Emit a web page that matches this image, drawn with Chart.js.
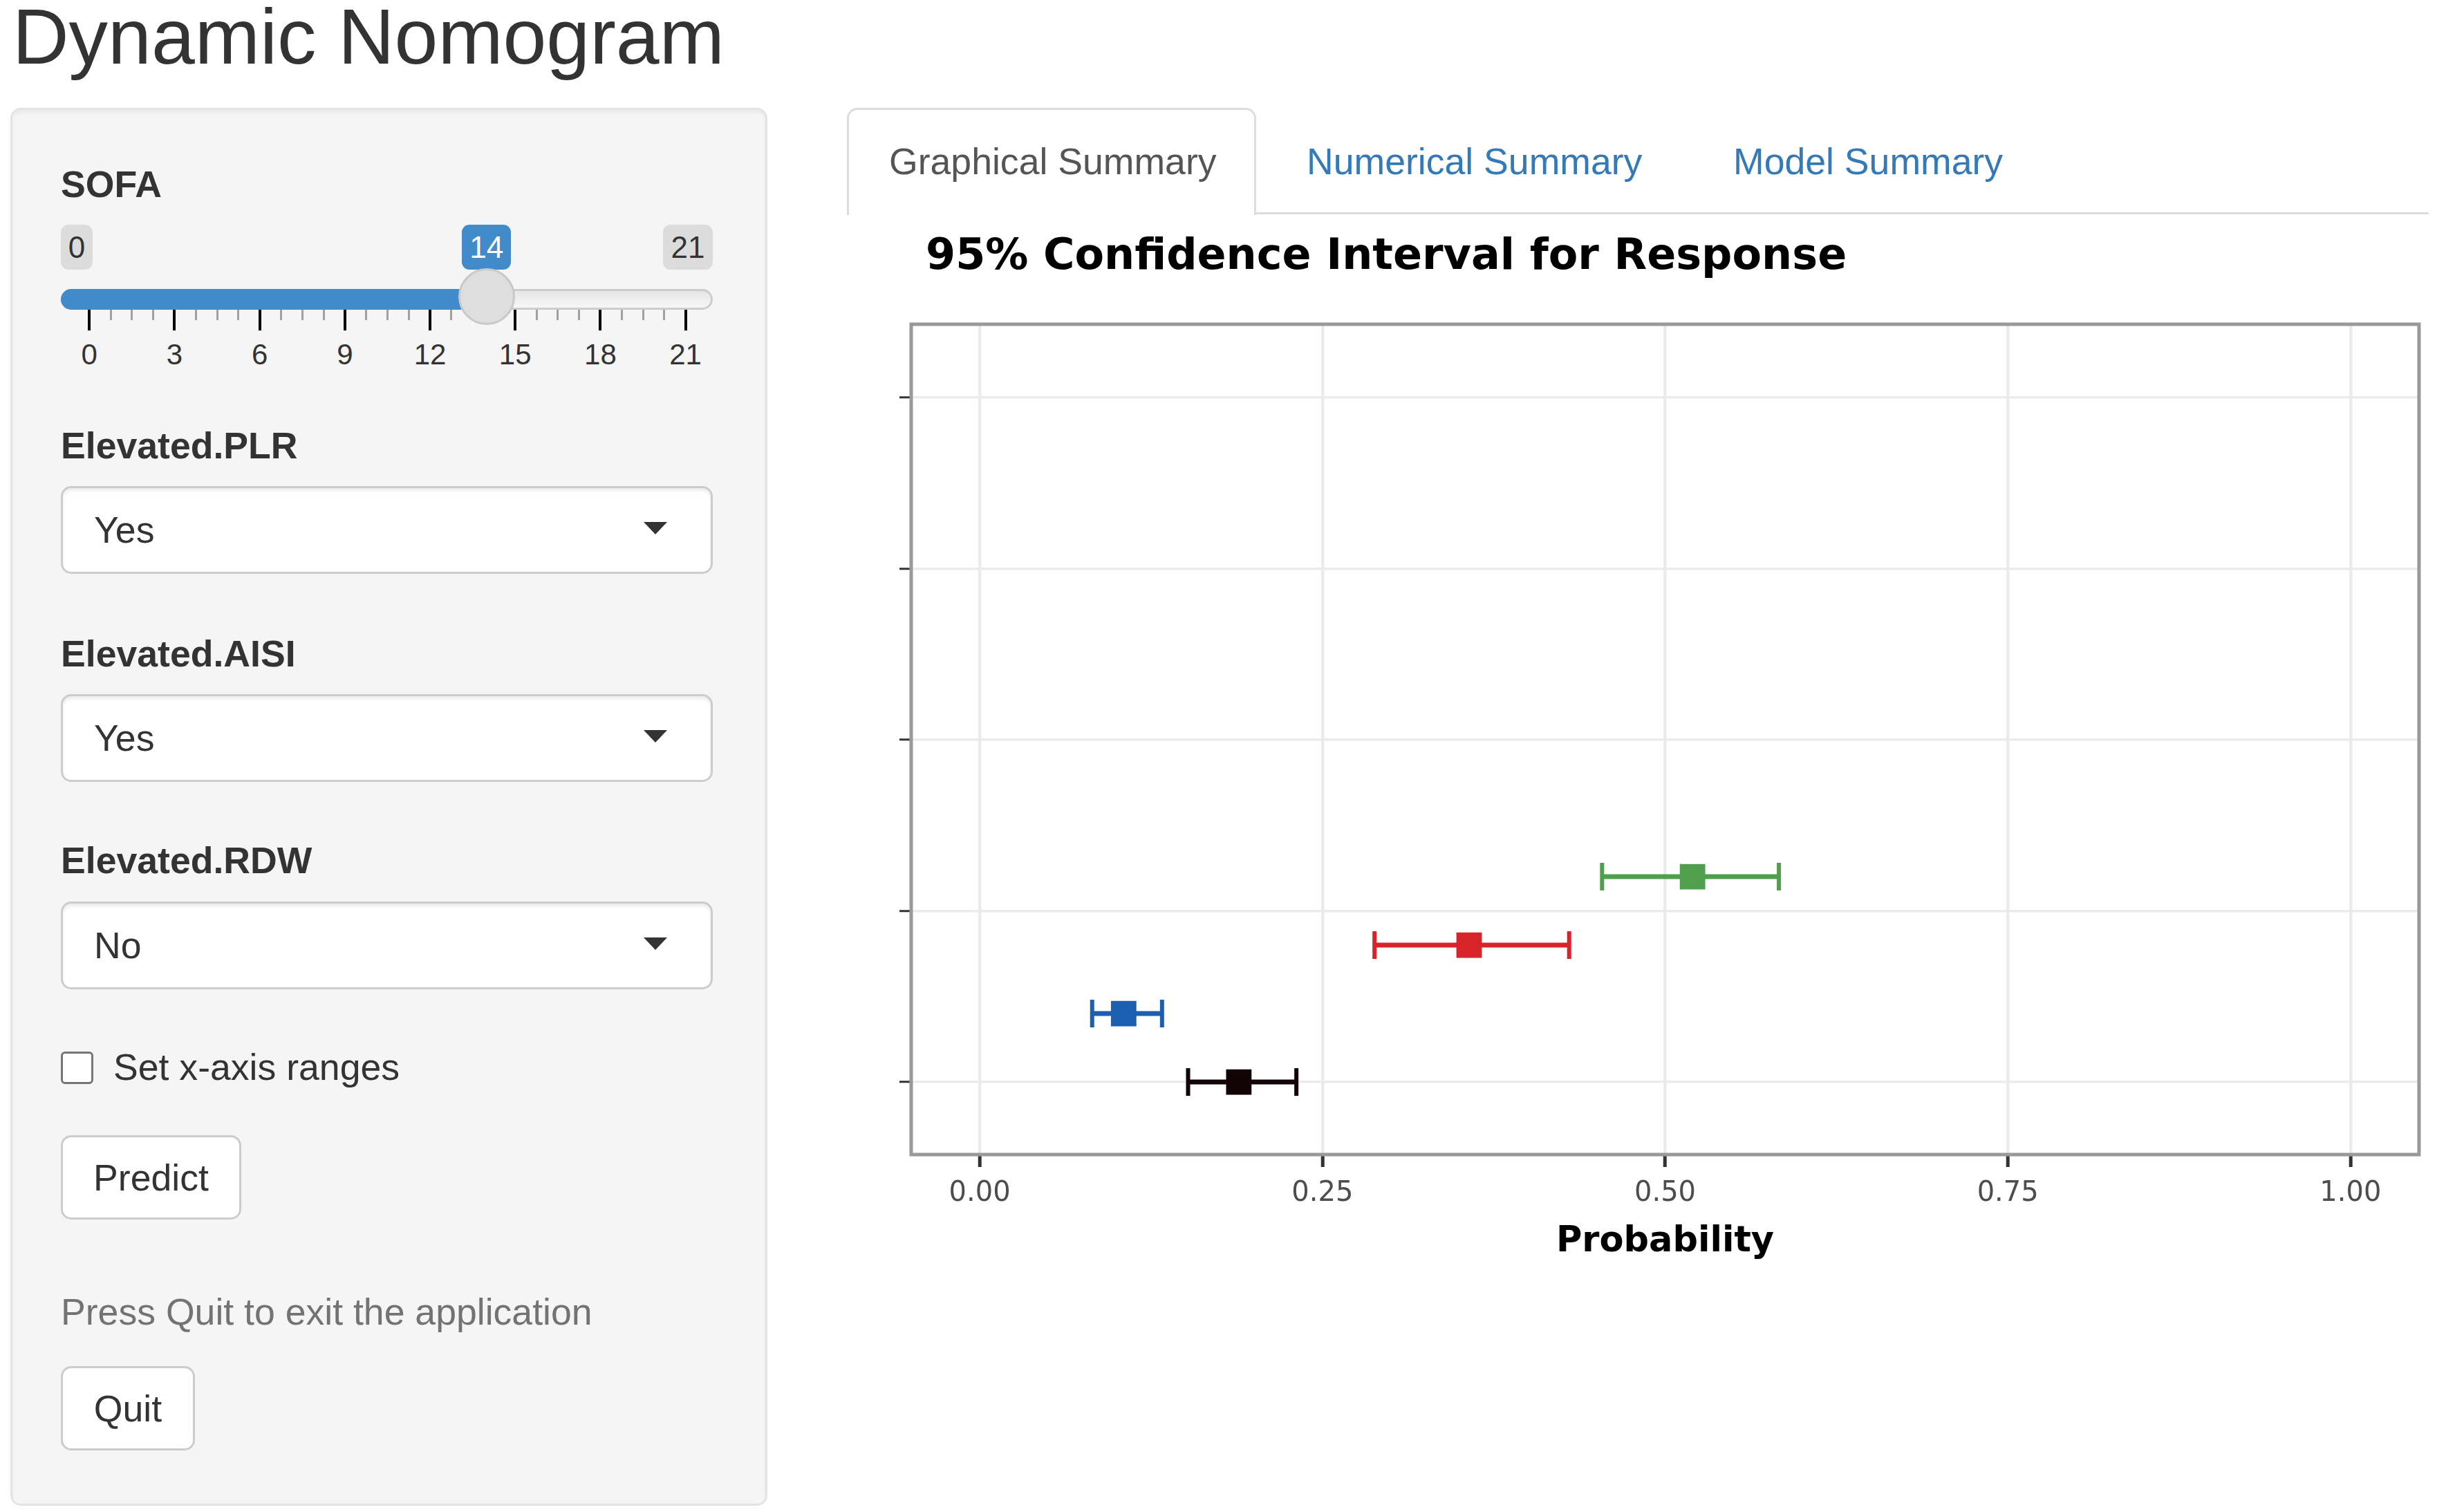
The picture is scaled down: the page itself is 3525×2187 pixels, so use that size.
<!DOCTYPE html>
<html>
<head>
<meta charset="utf-8">
<title>Dynamic Nomogram</title>
<script src="https://cdn.jsdelivr.net/npm/chart.js@4.4.1/dist/chart.umd.min.js"></script>
<style>
  * { box-sizing: border-box; }
  html, body { margin: 0; padding: 0; background: #fff; }
  body {
    width: 3525px; height: 2187px; position: relative; overflow: hidden;
    font-family: "Liberation Sans", Arial, Helvetica, sans-serif;
    font-size: 53.6px; color: #333;
  }
  h2 {
    position: absolute; left: 18px; top: -3px; margin: 0;
    font-size: 113px; line-height: 113px; font-weight: normal; color: #333;
  }
  .well {
    position: absolute; left: 15px; top: 156px; width: 1095px; height: 2022px;
    background: #f5f5f5; border: 3px solid #e3e3e3; border-radius: 15px;
    box-shadow: inset 0 4px 4px rgba(0, 0, 0, 0.05);
  }
  .txt { position: absolute; white-space: nowrap; height: 50px; line-height: 50px; }
  .lbl { left: 88px; font-weight: bold; }
  .sel {
    position: absolute; left: 88px; width: 943px; height: 127px;
    background: #fff; border: 3px solid #ccc; border-radius: 15px;
    box-shadow: inset 0 4px 4px rgba(0, 0, 0, 0.075);
  }
  .sel span { position: absolute; left: 45px; top: 0; line-height: 121px; }
  .sel i {
    position: absolute; left: 840px; top: 49px; width: 0; height: 0;
    border-left: 17px solid transparent; border-right: 17px solid transparent;
    border-top: 18px solid #333;
  }
  .chk {
    position: absolute; left: 88px; top: 1521px; width: 47px; height: 47px;
    background: #fff; border: 3px solid #767676; border-radius: 6px;
  }
  .btn {
    position: absolute; left: 88px; height: 122px; background: #fff;
    border: 3px solid #ccc; border-radius: 15px; text-align: center; line-height: 116px;
  }
  .irs-box {
    position: absolute; top: 325px; height: 65px; line-height: 65px;
    font-size: 44px; text-align: center; border-radius: 11px;
  }
  .irs-line {
    position: absolute; left: 88px; top: 418px; width: 943px; height: 30px;
    border: 3px solid #ccc; border-radius: 15px;
    background: linear-gradient(to bottom, #ddd -50%, #fff 150%);
  }
  .irs-bar {
    position: absolute; left: 88px; top: 418px; height: 30px;
    background: #428bca; border-radius: 15px 0 0 15px;
  }
  .irs-handle {
    position: absolute; width: 82px; height: 82px; top: 388px; z-index: 3;
    background: #dedede; border: 3px solid #c9c9c9; border-radius: 50%;
  }
  .tick { position: absolute; top: 448px; }
  .gridtxt {
    position: absolute; top: 488px; width: 100px; height: 50px; line-height: 50px;
    text-align: center; font-size: 42px; color: #333;
  }
  .tabline { position: absolute; left: 1228px; top: 307px; width: 2285px; height: 3px; background: #ddd; }
  .tab-active {
    position: absolute; left: 1225px; top: 156px; width: 592px; height: 155px;
    background: #fff; border: 3px solid #ddd; border-bottom: 0; border-radius: 15px 15px 0 0;
  }
  .tabtxt { top: 208px; }
  #chartBox { position: absolute; left: 1230px; top: 310px; width: 2295px; height: 1577px; }
</style>
</head>
<body>

<h2>Dynamic Nomogram</h2>

<div class="well"></div>
<div class="txt lbl" style="top:241px">SOFA</div>
<div id="slider"></div>

<div class="txt lbl" style="top:619px">Elevated.PLR</div>
<div class="sel" style="top:703px"><span>Yes</span><i></i></div>
<div class="txt lbl" style="top:920px">Elevated.AISI</div>
<div class="sel" style="top:1004px"><span>Yes</span><i></i></div>
<div class="txt lbl" style="top:1219px">Elevated.RDW</div>
<div class="sel" style="top:1304px"><span>No</span><i></i></div>

<div class="chk"></div>
<div class="txt" style="left:164px; top:1518px">Set x-axis ranges</div>
<div class="btn" style="top:1642px; width:261px">Predict</div>
<div class="txt" style="left:88px; top:1872px; color:#737373">Press Quit to exit the application</div>
<div class="btn" style="top:1976px; width:194px">Quit</div>

<div class="tabline"></div>
<div class="tab-active"></div>
<div class="txt tabtxt" style="left:1286px; color:#555">Graphical Summary</div>
<div class="txt tabtxt" style="left:1890px; color:#337ab7">Numerical Summary</div>
<div class="txt tabtxt" style="left:2507px; color:#337ab7">Model Summary</div>

<div id="chartBox"><canvas id="ciChart" width="2295" height="1577"></canvas></div>

<script>
// slider input
const sofaMin = 0;
const sofaMax = 21;
const sofaValue = 14;
const sofaGrid = [0, 3, 6, 9, 12, 15, 18, 21];

// predictions, bottom to top
const predRows = [0, 1, 2, 3];
const fitValues = [0.189, 0.105, 0.357, 0.520];
const lowerValues = [0.152, 0.082, 0.288, 0.454];
const upperValues = [0.231, 0.133, 0.430, 0.583];
const predColors = ['#120306', '#1b5fb1', '#d8232a', '#4f9f4f'];

const xTicks = [0, 0.25, 0.5, 0.75, 1];
const xTickLabels = ['0.00', '0.25', '0.50', '0.75', '1.00'];
const yTicks = [0, 2.5, 5, 7.5, 10];
const yTickLabels = ['', '', '', '', ''];

// ---- slider (plain html) ----
function buildSlider() {
  const el = document.getElementById('slider');
  const x0 = 129.3, x1 = 991.6;
  const px = v => x0 + (v - sofaMin) * (x1 - x0) / (sofaMax - sofaMin);
  let html = '';
  html += `<div class="irs-box" style="left:88px;width:46px;background:rgba(0,0,0,0.1);color:#333">${sofaMin}</div>`;
  html += `<div class="irs-box" style="left:959px;width:72px;background:rgba(0,0,0,0.1);color:#333">${sofaMax}</div>`;
  html += `<div class="irs-box" style="left:${px(sofaValue) - 36}px;width:71px;background:#428bca;color:#fff">${sofaValue}</div>`;
  html += '<div class="irs-line"></div>';
  html += `<div class="irs-bar" style="width:${px(sofaValue) - 88}px"></div>`;
  for (let i = 0; i < sofaGrid.length; i++) {
    const v = sofaGrid[i];
    html += `<div class="tick" style="left:${px(v) - 2}px;width:4px;height:30px;background:#000"></div>`;
    html += `<div class="gridtxt" style="left:${px(v) - 50}px">${v}</div>`;
    if (i < sofaGrid.length - 1) {
      const step = (sofaGrid[i + 1] - v) / 4;
      for (let k = 1; k < 4; k++) {
        html += `<div class="tick" style="left:${px(v + k * step) - 1.5}px;width:3px;height:15px;background:#a0a0a0"></div>`;
      }
    }
  }
  html += `<div class="irs-handle" style="left:${px(sofaValue) - 41}px"></div>`;
  el.innerHTML = html;
}
buildSlider();

// ---- chart ----
const pointSets = predRows.map((row, i) => ({
  data: [{ x: fitValues[i], y: row }],
  pointStyle: 'rect',
  pointRadius: 26,
  pointBorderWidth: 0,
  backgroundColor: predColors[i],
  showLine: false
}));

const intervalSets = predRows.map((row, i) => ({
  data: [{ x: lowerValues[i], y: row }, { x: upperValues[i], y: row }],
  showLine: true,
  borderColor: predColors[i],
  borderWidth: 7,
  pointStyle: 'line',
  pointRotation: 90,
  pointRadius: 20,
  pointBorderWidth: 6,
  pointBorderColor: predColors[i]
}));

const panelBorder = {
  id: 'panelBorder',
  afterDraw(chart, args, opts) {
    const { ctx, chartArea } = chart;
    ctx.save();
    ctx.strokeStyle = opts.color;
    ctx.lineWidth = opts.width;
    ctx.strokeRect(chartArea.left, chartArea.top, chartArea.right - chartArea.left, chartArea.bottom - chartArea.top);
    ctx.restore();
  }
};

const panelTitle = {
  id: 'panelTitle',
  afterDraw(chart, args, opts) {
    const { ctx, chartArea } = chart;
    ctx.save();
    ctx.font = opts.font;
    ctx.fillStyle = opts.color;
    ctx.textAlign = 'left';
    ctx.textBaseline = 'middle';
    ctx.fillText(opts.text, chartArea.left + opts.offsetX, opts.y);
    ctx.restore();
  }
};

new Chart(document.getElementById('ciChart').getContext('2d'), {
  type: 'scatter',
  data: { datasets: pointSets.concat(intervalSets) },
  plugins: [panelBorder, panelTitle],
  options: {
    responsive: false,
    devicePixelRatio: 1,
    animation: false,
    events: [],
    layout: { padding: { top: 159, right: 4, bottom: 0, left: 0 } },
    plugins: {
      legend: { display: false },
      tooltip: { enabled: false },
      title: { display: false },
      panelBorder: { color: '#999', width: 5 },
      panelTitle: {
        text: '95% Confidence Interval for Response',
        font: 'bold 62px "DejaVu Sans"',
        color: '#000',
        offsetX: 21,
        y: 63
      }
    },
    scales: {
      x: {
        type: 'linear',
        min: -0.05,
        max: 1.05,
        afterBuildTicks: s => { s.ticks = xTicks.map(v => ({ value: v })); },
        afterFit: s => { s.height = 217; },
        border: { display: false },
        grid: { color: '#ebebeb', lineWidth: 4.5, tickColor: '#333', tickWidth: 5, tickLength: 18 },
        ticks: {
          autoSkip: false,
          maxRotation: 0,
          padding: 15,
          color: '#4d4d4d',
          font: { family: 'DejaVu Sans', size: 40 },
          callback: (v, i) => xTickLabels[i]
        },
        title: {
          display: true,
          text: 'Probability',
          color: '#000',
          font: { family: 'DejaVu Sans', size: 51, weight: 'bold' },
          padding: { top: 0, bottom: 60 }
        }
      },
      y: {
        type: 'linear',
        min: -1.06,
        max: 11.07,
        afterBuildTicks: s => { s.ticks = yTicks.map(v => ({ value: v })); },
        afterFit: s => { s.width = 88; },
        border: { display: false },
        grid: { color: '#ebebeb', lineWidth: 3.5, tickColor: '#333', tickWidth: 3, tickLength: 17 },
        ticks: { padding: 0, font: { size: 10 }, callback: (v, i) => yTickLabels[i] }
      }
    }
  }
});
</script>
</body>
</html>
